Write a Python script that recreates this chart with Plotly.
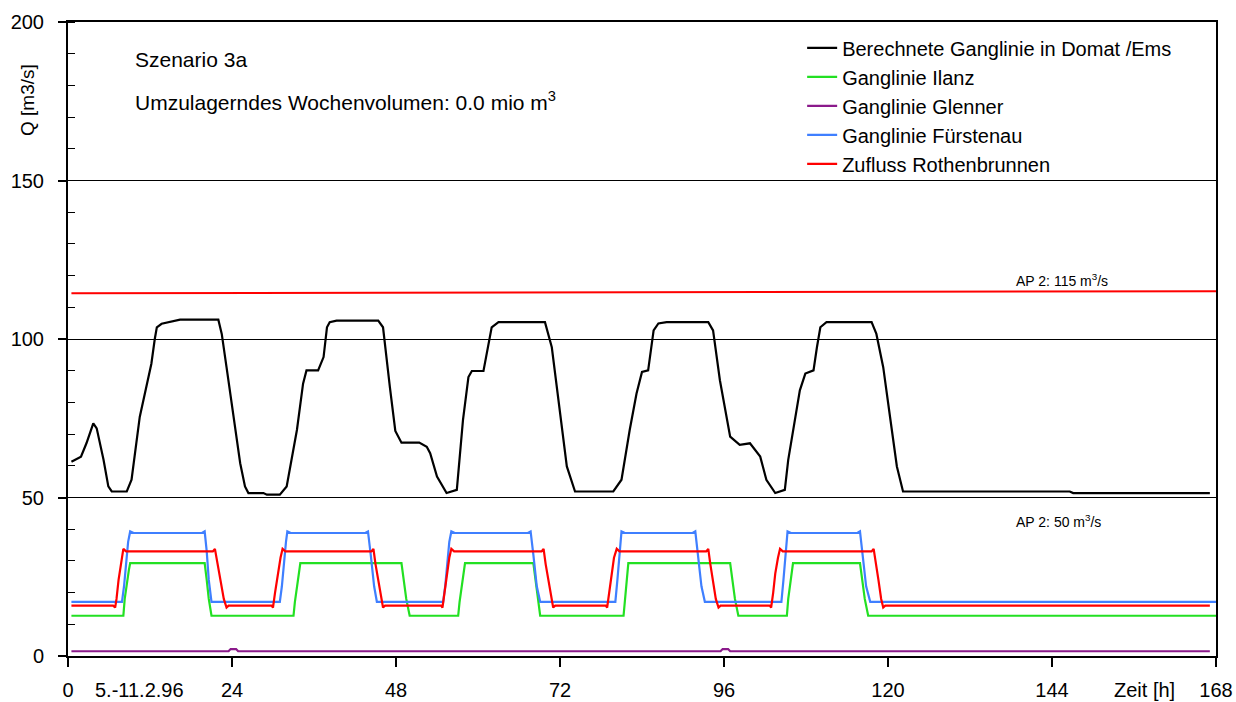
import plotly.graph_objects as go

# ---------------- data ----------------
black_t = [0.5, 1.9, 2.7, 3.7, 4.2, 5.2, 5.9, 6.4, 8.6, 9.3, 10.5, 11.5, 12.2, 12.7, 13.0, 13.7, 14.9, 16.4,
           22.0, 22.5, 23.2, 24.2, 25.2, 25.9, 26.4, 28.6, 29.1, 31.0, 32.0, 33.5, 34.4, 34.9, 36.6, 37.4,
           37.9, 38.3, 39.3, 45.4, 46.1, 47.1, 47.9, 48.8, 51.4, 52.5, 53.0, 54.0, 55.4, 56.9, 57.4, 57.8,
           58.6, 59.1, 60.8, 61.5, 62.0, 63.0, 69.8, 70.8, 72.0, 73.0, 74.2, 79.8, 81.0, 82.2, 83.2, 84.0,
           84.9, 85.7, 86.4, 87.6, 93.7, 94.4, 95.4, 96.9, 98.3, 99.8, 101.3, 102.2, 103.5, 104.9, 105.4,
           106.4, 107.1, 107.9, 109.1, 109.6, 110.1, 111.0, 117.6, 118.3, 119.3, 120.3, 121.3, 122.2, 123.7,
           146.6, 147.1, 167.1]
black_v = [61.3, 62.9, 67.1, 73.4, 71.8, 61.9, 53.5, 51.9, 51.9, 55.6, 75.4, 85.9, 92.2, 100.0, 103.7, 104.8, 105.3, 106.1,
           106.1, 101.6, 91.1, 76.5, 60.8, 53.5, 51.4, 51.4, 50.9, 50.9, 53.5, 71.3, 85.9, 90.1, 90.1, 94.3,
           103.7, 105.3, 105.8, 105.8, 103.7, 84.9, 71.0, 67.3, 67.3, 66.0, 64.0, 56.6, 51.4, 52.4, 64.0, 74.4,
           88.0, 89.9, 89.9, 97.4, 103.7, 105.3, 105.3, 97.4, 76.5, 59.8, 51.9, 51.9, 55.6, 71.3, 82.8, 89.6,
           90.1, 102.7, 104.9, 105.3, 105.3, 102.7, 87.0, 69.2, 66.6, 67.1, 62.9, 55.6, 51.4, 52.4, 61.9,
           74.4, 83.8, 89.1, 90.1, 97.4, 103.7, 105.3, 105.3, 101.6, 91.1, 75.4, 59.8, 51.9, 51.9,
           51.9, 51.4, 51.4]

ilanz_t = [0.5, 8.1, 8.3, 8.6, 8.9, 9.1, 20.0, 20.3, 20.6, 21.0,
           33.0, 33.2, 33.5, 33.8, 34.0, 48.8, 49.1, 49.5, 50.0,
           57.1, 57.3, 57.6, 57.9, 58.1, 68.1, 68.4, 68.7, 69.1,
           81.3, 81.5, 81.7, 82.0, 96.9, 97.2, 97.6, 98.1,
           105.2, 105.4, 105.7, 106.1, 115.9, 116.2, 116.6, 117.1, 168.0]
ilanz_v = [12.7, 12.7, 18.0, 23.0, 27.0, 29.3, 29.3, 24.0, 18.0, 12.7,
           12.7, 17.0, 22.0, 26.0, 29.3, 29.3, 24.0, 18.0, 12.7,
           12.7, 17.0, 22.0, 26.0, 29.3, 29.3, 24.0, 18.0, 12.7,
           12.7, 18.0, 23.0, 29.3, 29.3, 24.0, 18.0, 12.7,
           12.7, 18.0, 23.0, 29.3, 29.3, 24.0, 18.0, 12.7, 12.7]

glenner_t = [0.5, 23.5, 23.8, 24.6, 24.9, 95.5, 95.8, 96.6, 96.9, 167.1]
glenner_v = [1.5, 1.5, 2.2, 2.2, 1.5, 1.5, 2.2, 2.2, 1.5, 1.5]

fuerstenau_t = [0.5, 7.9, 8.2, 8.5, 8.8, 9.1, 9.6, 19.6, 20.0, 20.3, 20.6, 21.0,
                31.0, 31.3, 31.6, 31.9, 32.1, 32.6, 43.5, 43.9, 44.3, 44.8, 45.2,
                54.9, 55.2, 55.5, 55.8, 56.1, 56.6, 67.3, 67.7, 68.1, 68.6, 69.1,
                80.1, 80.4, 80.7, 81.0, 81.5, 91.4, 91.8, 92.2, 92.7, 93.2,
                104.4, 104.7, 105.0, 105.3, 105.8, 115.5, 115.9, 116.3, 116.8, 117.4, 168.0]
fuerstenau_v = [17.1, 17.1, 22.0, 30.0, 36.0, 39.3, 38.8, 38.8, 39.3, 33.0, 24.0, 17.1,
                17.1, 22.0, 30.0, 36.0, 39.3, 38.8, 38.8, 39.3, 32.0, 22.0, 17.1,
                17.1, 22.0, 30.0, 36.0, 39.3, 38.8, 38.8, 39.3, 32.0, 22.0, 17.1,
                17.1, 24.0, 33.0, 39.3, 38.8, 38.8, 39.3, 32.0, 22.0, 17.1,
                17.1, 24.0, 33.0, 39.3, 38.8, 38.8, 39.3, 32.0, 22.0, 17.1, 17.1]

rothen_t = [0.5, 6.6, 6.9, 7.1, 7.4, 7.8, 8.1, 8.5, 21.2, 21.5, 21.8, 22.3, 22.8, 23.2, 23.5,
            29.8, 30.0, 30.3, 30.7, 31.1, 31.4, 31.8, 44.4, 44.7, 45.0, 45.4, 45.8, 46.1, 46.4,
            54.6, 54.8, 55.1, 55.4, 55.8, 56.1, 56.5, 69.3, 69.6, 69.9, 70.3, 70.7, 71.0, 71.3,
            78.7, 78.9, 79.2, 79.5, 79.9, 80.3, 80.7, 93.4, 93.7, 94.0, 94.4, 94.8, 95.2, 95.5,
            102.7, 102.9, 103.2, 103.5, 103.9, 104.2, 104.6, 117.6, 117.9, 118.2, 118.6, 119.0, 119.3, 119.6,
            167.1]
rothen_v = [15.9, 15.9, 15.3, 18.0, 24.0, 29.0, 33.8, 33.0, 33.0, 33.8, 30.0, 24.0, 18.0, 15.3, 15.9,
            15.9, 15.3, 20.0, 26.0, 31.0, 33.8, 33.0, 33.0, 33.8, 29.0, 24.0, 18.0, 15.3, 15.9,
            15.9, 15.3, 20.0, 26.0, 31.0, 33.8, 33.0, 33.0, 33.8, 29.0, 24.0, 18.0, 15.3, 15.9,
            15.9, 15.3, 20.0, 26.0, 31.0, 33.8, 33.0, 33.0, 33.8, 29.0, 24.0, 18.0, 15.3, 15.9,
            15.9, 15.3, 20.0, 26.0, 31.0, 33.8, 33.0, 33.0, 33.8, 29.0, 24.0, 18.0, 15.3, 15.9,
            15.9]

ap2_t = [0.5, 168.0]
ap2_v = [114.4, 115.1]

x_ticks = [0, 24, 48, 72, 96, 120, 144, 168]
y_ticks = [0, 50, 100, 150, 200]

names = ["Berechnete Ganglinie in Domat /Ems", "Ganglinie Ilanz", "Ganglinie Glenner",
         "Ganglinie Fürstenau", "Zufluss Rothenbrunnen"]
colors = ["#000000", "#22e022", "#8b1a8b", "#3f7fff", "#ff0000"]

FONT = "Arial, Liberation Sans, sans-serif"

fig = go.Figure()
series = [(black_t, black_v), (ilanz_t, ilanz_v), (glenner_t, glenner_v),
          (fuerstenau_t, fuerstenau_v), (rothen_t, rothen_v)]
for i, ((t, v), n, c) in enumerate(zip(series, names, colors)):
    fig.add_trace(go.Scatter(x=t, y=v, mode="lines", name=n, legendgroup=f"g{i}",
                             line=dict(color=c, width=2.2)))

fig.add_trace(go.Scatter(x=ap2_t, y=ap2_v, mode="lines", showlegend=False,
                         line=dict(color="#ff0000", width=2)))

fig.update_layout(
    width=1236, height=702,
    margin=dict(l=68, r=20, t=22, b=46),
    paper_bgcolor="white", plot_bgcolor="white",
    font=dict(family=FONT, color="black", size=20),
    showlegend=True,
    legend=dict(x=0.6395, y=0.99, xanchor="left", yanchor="top",
                font=dict(size=20, family=FONT), bgcolor="rgba(0,0,0,0)",
                tracegroupgap=3, itemwidth=30, traceorder="normal"),
)

fig.update_xaxes(range=[0, 168], tickvals=x_ticks, ticks="outside", ticklen=9, tickwidth=1.5,
                 tickcolor="black", showline=True, linewidth=2, linecolor="black", mirror=True,
                 showgrid=False, zeroline=False, tickfont=dict(size=20), ticklabelstandoff=6,
                 automargin=False)
fig.update_yaxes(range=[0, 200], tickvals=y_ticks, ticks="outside", ticklen=8, tickwidth=1.5,
                 tickcolor="black", showline=True, linewidth=2, linecolor="black", mirror=True,
                 showgrid=True, gridcolor="black", gridwidth=1.3, zeroline=False,
                 tickfont=dict(size=20), ticklabelstandoff=10, automargin=False,
                 minor=dict(ticks="inside", ticklen=7, tickwidth=1.3, tickcolor="black",
                            dtick=10, showgrid=False))

ann = [
    dict(text="Szenario 3a", x=0.0565, y=0.941, xref="paper", yref="paper",
         xanchor="left", yanchor="middle", font=dict(size=21)),
    dict(text="Umzulagerndes Wochenvolumen: 0.0 mio m<sup>3</sup>", x=0.0565, y=0.875,
         xref="paper", yref="paper", xanchor="left", yanchor="middle", font=dict(size=21)),
    dict(text="AP 2: 115 m<sup>3</sup>/s", x=138.4, y=118.5, xref="x", yref="y",
         xanchor="left", yanchor="middle", font=dict(size=14)),
    dict(text="AP 2: 50 m<sup>3</sup>/s", x=138.4, y=42.6, xref="x", yref="y",
         xanchor="left", yanchor="middle", font=dict(size=14)),
    dict(text="Q [m3/s]", x=-40 / 1148, y=0.877, xref="paper", yref="paper", textangle=-90,
         xanchor="center", yanchor="middle", font=dict(size=19)),
    dict(text="5.-11.2.96", x=10.5, y=-0.054, xref="x", yref="paper",
         xanchor="center", yanchor="middle", font=dict(size=20)),
    dict(text="Zeit [h]", x=157.5, y=-0.054, xref="x", yref="paper",
         xanchor="center", yanchor="middle", font=dict(size=20)),
]
for a in ann:
    a["showarrow"] = False
fig.update_layout(annotations=ann)

fig.write_html("out.html")
